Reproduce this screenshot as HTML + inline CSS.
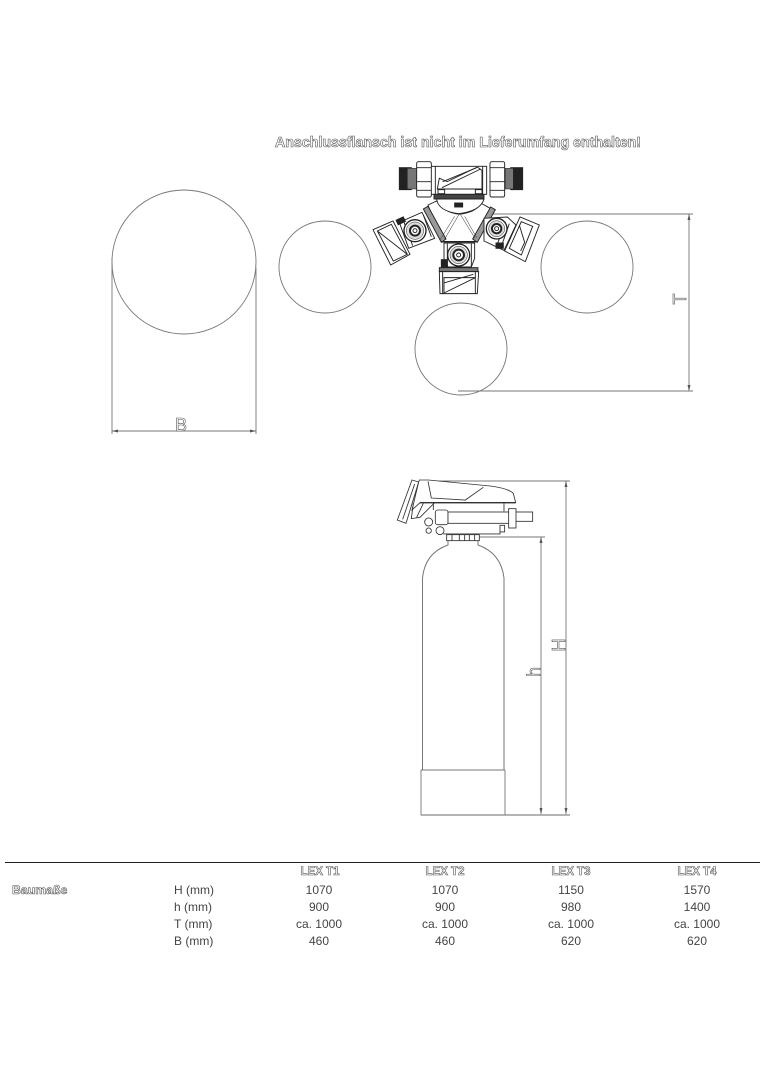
<!DOCTYPE html>
<html><head><meta charset="utf-8"><title>Baumaße</title>
<style>
html,body{margin:0;padding:0;background:#fff}
svg{display:block}
text{font-family:"Liberation Sans",sans-serif}
.o{fill:#fff;stroke:#555;stroke-width:.6}
.t{fill:#444;font-size:12px;text-anchor:middle}
</style></head><body>
<svg width="764" height="1080" viewBox="0 0 764 1080" xmlns="http://www.w3.org/2000/svg">
<rect width="764" height="1080" fill="#fff"/>
<g fill="none" stroke="#777" stroke-width=".9">
<circle cx="184" cy="262" r="72"/>
<circle cx="325" cy="267" r="46"/>
<circle cx="587" cy="267" r="46"/>
<circle cx="461" cy="349" r="46"/>
<path d="M112 258V434M256 268V434M112 431H256"/>
<path d="M470 214H693M458 391H693M689 214V391"/>
<path d="M425 481H570M478 537H545"/>
<path d="M541 537V814M566 481V814"/>
<path d="M421 770V815H505V770M421 770H505"/>
</g>
<g fill="#555" stroke="none">
<path d="M112 431l6-1.500v3zM256 431l-6-1.500v3zM689 214l-1.500 6h3zM689 391l-1.500-6h3zM541 537l-1.500 6h3zM541 814l-1.500-6h3zM566 481l-1.500 6h3zM566 814l-1.500-6h3z"/>
</g>
<path d="M421 815H570" stroke="#888" stroke-width="1.300" fill="none"/>
<path d="M422.500 770V578Q425 553 448 545V541M504 770V578Q501 553 478 545V541" fill="none" stroke="#777" stroke-width="1"/>

<text x="181" y="431" class="o" font-size="18" text-anchor="middle">B</text>
<text transform="translate(686,299) rotate(-90)" class="o" font-size="18" text-anchor="middle">T</text>
<text transform="translate(565,645) rotate(-90)" class="o" font-size="18" text-anchor="middle">H</text>
<text transform="translate(540,672) rotate(-90)" class="o" font-size="18" text-anchor="middle">h</text>

<text x="458" y="147" class="o" font-size="14.500" font-weight="bold" text-anchor="middle" textLength="366" lengthAdjust="spacingAndGlyphs">Anschlussflansch ist nicht im Lieferumfang enthalten!</text>

<!-- top view of valve -->
<g transform="translate(360,125) scale(.3333)" fill="#fff" stroke="#222" stroke-width="2.800">
<rect x="118" y="128" width="36" height="66" fill="#222"/>
<rect x="452" y="128" width="36" height="66" fill="#222"/>
<rect x="142" y="130" width="30" height="62" fill="#777" stroke-width="1.500"/>
<rect x="436" y="130" width="24" height="62" fill="#777" stroke-width="1.500"/>
<rect x="212" y="124" width="168" height="84"/>
<rect x="170" y="110" width="44" height="106" rx="5"/>
<rect x="390" y="110" width="44" height="106" rx="5"/>
<path d="M170 128H214M170 170H214M170 196H214M390 128H434M390 170H434M390 196H434M226 124V208M368 124V208" fill="none"/>
<path d="M232 192L238 160L262 170L352 126L366 136V192Z"/>
<path d="M246 188L362 132M248 170L350 128" fill="none"/>
<rect x="222" y="208" width="150" height="14" fill="#444"/>
<rect x="234" y="194" width="20" height="12"/>
<rect x="346" y="194" width="20" height="12"/>
<!-- y-body and arms -->
<path d="M204 240L230 228Q250 262 298 268Q350 262 362 234L398 254L345 350H248Z"/>
<path d="M230 222Q234 258 296 266Q362 258 372 222Z"/>
<rect x="284" y="234" width="24" height="12" fill="#222"/>
<path d="M190 252L204 244L258 342L244 352ZM406 254L392 246L338 342L352 352Z" fill="#999"/>
<path d="M296 270L254 342M302 270L345 340M284 274L240 345M314 274L350 338" fill="none" stroke-width="1.500"/>
<path d="M244 350H350" fill="none" stroke-width="4"/>
<!-- bottom unit -->
<path d="M252 354H344V400L334 426H264L252 400Z"/>
<path d="M262 356V424M334 356V424" fill="none"/>
<rect x="244" y="404" width="18" height="26" fill="#222"/>
<circle cx="296" cy="390" r="33" stroke-width="4"/><circle cx="296" cy="390" r="26" fill="#ddd" stroke-width="1.500"/><circle cx="296" cy="390" r="16" stroke-width="6"/><circle cx="296" cy="390" r="6"/>
<rect x="238" y="428" width="116" height="12" fill="#777"/>
<path d="M238 440H356L352 506H240Z"/>
<path d="M248 440V506M346 440V506M252 504L346 458H252ZM252 474L340 448" fill="none"/>
<!-- left unit -->
<path d="M118 292L186 262L224 340L146 370Z"/>
<path d="M130 286L158 362M190 270L214 335" fill="none"/>
<rect x="110" y="280" width="24" height="15" fill="#222" transform="rotate(-25 122 287)"/>
<circle cx="165" cy="317" r="33" stroke-width="4"/><circle cx="165" cy="317" r="26" fill="#ddd" stroke-width="1.500"/><circle cx="165" cy="317" r="15" stroke-width="6"/><circle cx="165" cy="317" r="6"/>
<path d="M39 314L99 288L150 388L92 420Z"/>
<path d="M52 318L94 298L142 388L100 408ZM52 318L142 388" fill="none"/>
<!-- right unit -->
<path d="M372 280L442 276L468 300L432 376L372 348Z"/>
<path d="M436 290L412 358M448 296L424 364" fill="none"/>
<rect x="408" y="354" width="22" height="16" fill="#222"/>
<circle cx="410" cy="311" r="31" stroke-width="4"/><circle cx="410" cy="311" r="24" fill="#ddd" stroke-width="1.500"/><circle cx="410" cy="311" r="14" stroke-width="6"/><circle cx="410" cy="311" r="6"/>
<path d="M480 276L538 300L496 410L434 378Z"/>
<path d="M484 290L518 304L484 390L448 370ZM478 300L494 352L482 378" fill="none"/>
</g>

<!-- side view head -->
<g transform="translate(380,470) scale(.3333)" fill="#fff" stroke="#333" stroke-width="2.600">
<path d="M96 30L116 36L78 160L52 150Z"/>
<path d="M104 42L68 148" fill="none"/>
<path d="M116 36L118 30H145L330 48Q385 55 400 70L407 98H120L96 120Z"/>
<path d="M144 34L154 84L256 90L310 52" fill="none"/>
<path d="M120 98H407" fill="none" stroke-width="4"/>
<path d="M100 100L94 146L120 142L164 98M130 100L110 142" fill="none"/>
<path d="M372 100V124M160 98V120" fill="none"/>
<rect x="166" y="120" width="38" height="44" rx="7"/>
<rect x="204" y="126" width="184" height="34"/>
<rect x="406" y="126" width="52" height="28"/>
<rect x="386" y="116" width="22" height="58"/>
<circle cx="146" cy="156" r="12"/>
<circle cx="146" cy="182" r="8"/>
<circle cx="180" cy="182" r="12"/>
<path d="M190 192H360V166H374V186H360" fill="none"/>
<rect x="200" y="194" width="98" height="18"/>
<path d="M216 194V212M238 194V212M254 194V212M268 194V212M284 194V212" fill="none"/>
</g>

<path d="M5 862.500H760" stroke="#222" stroke-width="1"/>
<g>
<text x="320" y="875" class="o" font-size="11.500" font-weight="bold" text-anchor="middle">LEX T1</text>
<text x="445" y="875" class="o" font-size="11.500" font-weight="bold" text-anchor="middle">LEX T2</text>
<text x="571" y="875" class="o" font-size="11.500" font-weight="bold" text-anchor="middle">LEX T3</text>
<text x="697" y="875" class="o" font-size="11.500" font-weight="bold" text-anchor="middle">LEX T4</text>
<text x="12" y="894" class="o" font-size="12.300" font-weight="bold">Baumaße</text>
</g>
<g fill="#444" font-size="12">
<text x="174" y="894">H (mm)</text>
<text x="174" y="911">h (mm)</text>
<text x="174" y="928">T (mm)</text>
<text x="174" y="945">B (mm)</text>
</g>
<text class="t" x="319" y="894">1070</text><text class="t" x="445" y="894">1070</text><text class="t" x="571" y="894">1150</text><text class="t" x="697" y="894">1570</text>
<text class="t" x="319" y="911">900</text><text class="t" x="445" y="911">900</text><text class="t" x="571" y="911">980</text><text class="t" x="697" y="911">1400</text>
<text class="t" x="319" y="928">ca. 1000</text><text class="t" x="445" y="928">ca. 1000</text><text class="t" x="571" y="928">ca. 1000</text><text class="t" x="697" y="928">ca. 1000</text>
<text class="t" x="319" y="945">460</text><text class="t" x="445" y="945">460</text><text class="t" x="571" y="945">620</text><text class="t" x="697" y="945">620</text>
</svg>
</body></html>
